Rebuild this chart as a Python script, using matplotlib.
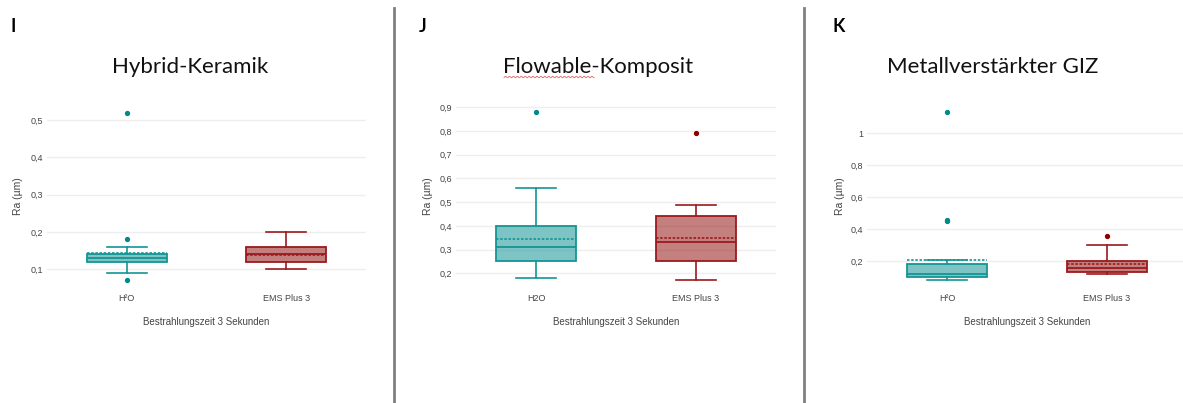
import matplotlib.pyplot as plt
import numpy as np

# Ra values per material, groups: H2O vs. EMS Plus 3
groups_I = ['H²O', 'EMS Plus 3']
groups_J = ['H2O', 'EMS Plus 3']
groups_K = ['H²O', 'EMS Plus 3']

# Hybrid-Keramik
q1_I = [0.12, 0.12]
med_I = [0.13, 0.14]
q3_I = [0.14, 0.16]
mean_I = [0.142, 0.138]
lo_I = [0.09, 0.10]
hi_I = [0.16, 0.20]
out_I = [[0.07, 0.18, 0.52], []]

# Flowable-Komposit
q1_J = [0.25, 0.25]
med_J = [0.31, 0.33]
q3_J = [0.40, 0.44]
mean_J = [0.343, 0.350]
lo_J = [0.18, 0.17]
hi_J = [0.56, 0.49]
out_J = [[0.88], [0.79]]

# Metallverstärkter GIZ
q1_K = [0.10, 0.13]
med_K = [0.12, 0.155]
q3_K = [0.18, 0.20]
mean_K = [0.206, 0.18]
lo_K = [0.08, 0.12]
hi_K = [0.21, 0.30]
out_K = [[0.45, 0.46, 1.13], [0.36]]

W, H = 1183, 403
fig = plt.figure(figsize=(W / 100, H / 100), dpi=100)
fig.patch.set_facecolor('white')

line_cols = ['#139595', '#9b1a1e']
flier_cols = ['#008b8b', '#8b0000']
fill_cols = ['#008b8b80', '#8b000080']
grid_col = '#eeeeee'
txt_col = '#444444'


def px_axes(left, right, top, bottom):
    return fig.add_axes([left / W, 1 - bottom / H, (right - left) / W, (bottom - top) / H])


def fmt(v):
    return f'{v:g}'.replace('.', ',')


def panel(ax, groups, q1, med, q3, mean, lo, hi, out, ylim, yticks):
    for i in range(len(groups)):
        st = [dict(q1=q1[i], med=med[i], q3=q3[i], mean=mean[i],
                   whislo=lo[i], whishi=hi[i], fliers=out[i])]
        c = line_cols[i]
        ax.bxp(st, positions=[i], widths=0.5, capwidths=0.25,
               patch_artist=True, showmeans=True, meanline=True,
               boxprops=dict(facecolor=fill_cols[i], edgecolor=c, linewidth=1.3),
               medianprops=dict(color=c, linewidth=1.3),
               meanprops=dict(color=c, linewidth=1.2, linestyle=(0, (1.5, 1))),
               whiskerprops=dict(color=c, linewidth=1.2),
               capprops=dict(color=c, linewidth=1.2),
               flierprops=dict(marker='o', markersize=2.8,
                               markerfacecolor=flier_cols[i],
                               markeredgecolor=flier_cols[i]))
    ax.set_xlim(-0.5, 1.5)
    ax.set_ylim(*ylim)
    ax.set_yticks(yticks)
    ax.set_yticklabels([fmt(v) for v in yticks])
    ax.set_xticks(range(len(groups)))
    ax.set_xticklabels(groups)
    ax.tick_params(length=0, labelsize=6.5, labelcolor=txt_col, pad=3)
    ax.grid(axis='y', color=grid_col, linewidth=1)
    ax.set_axisbelow(True)
    for s in ax.spines.values():
        s.set_visible(False)


ax1 = px_axes(47, 366, 100, 290)
panel(ax1, groups_I, q1_I, med_I, q3_I, mean_I, lo_I, hi_I, out_I,
      (0.0435, 0.5546), [0.1, 0.2, 0.3, 0.4, 0.5])

ax2 = px_axes(456, 776, 98, 290)
panel(ax2, groups_J, q1_J, med_J, q3_J, mean_J, lo_J, hi_J, out_J,
      (0.1296, 0.939), [0.2, 0.3, 0.4, 0.5, 0.6, 0.7, 0.8, 0.9])

ax3 = px_axes(867, 1187, 100, 290)
panel(ax3, groups_K, q1_K, med_K, q3_K, mean_K, lo_K, hi_K, out_K,
      (0.0206, 1.208), [0.2, 0.4, 0.6, 0.8, 1.0])

# panel texts in pixel positions
def ftext(x, y, s, **kw):
    fig.text(x / W, 1 - y / H, s, **kw)


for x, letter in [(10, 'I'), (419, 'J'), (832, 'K')]:
    ftext(x, 26, letter, fontsize=13, fontweight='bold', family='Lato',
          ha='left', va='center', color='black')

for x, title in [(190, 'Hybrid-Keramik'), (598, 'Flowable-Komposit'),
                 (993, 'Metallverstärkter GIZ')]:
    ftext(x, 67, title, fontsize=16, family='Lato', ha='center',
          va='center', color='#111111')

for x in [18, 428, 840]:
    ftext(x, 196, 'Ra (µm)', fontsize=7.5, rotation=90, ha='center',
          va='center', color=txt_col, family='Liberation Sans')

for x in [206, 616, 1027]:
    ftext(x, 322, 'Bestrahlungszeit 3 Sekunden', fontsize=7, ha='center',
          va='center', color=txt_col, family='Liberation Sans')

for ax in (ax1, ax2, ax3):
    for t in ax.get_xticklabels() + ax.get_yticklabels():
        t.set_family('Liberation Sans')

# grey separators between panels
for x in [394, 804]:
    fig.add_artist(plt.Line2D([x / W, x / W], [1 - 8 / H, 0], color='#808080',
                              linewidth=2))

# red spell-check squiggle under "Flowable"
sx = np.linspace(504, 594, 120)
sy = 77 + 0.8 * np.sin(sx * 1.6)
fig.add_artist(plt.Line2D(sx / W, 1 - sy / H, color='#e06666', linewidth=0.6))

fig.savefig('out.png', dpi=100)
